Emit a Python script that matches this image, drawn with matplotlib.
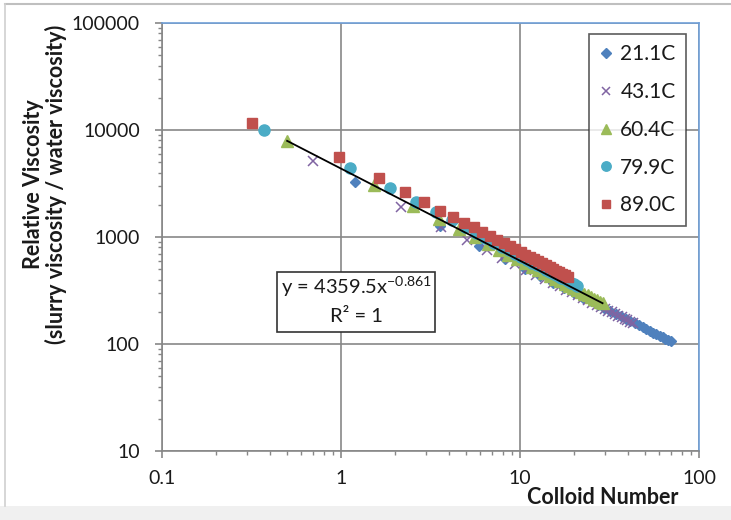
import matplotlib
matplotlib.use("Agg")
import matplotlib.pyplot as plt
import numpy as np
from matplotlib.ticker import LogLocator, FuncFormatter, NullFormatter
from matplotlib.patches import Rectangle
from matplotlib.lines import Line2D

plt.rcParams['font.family'] = ['Lato', 'DejaVu Sans']
plt.rcParams['mathtext.fontset'] = 'custom'
plt.rcParams['mathtext.rm'] = 'Lato'
plt.rcParams['mathtext.it'] = 'Lato:italic'
plt.rcParams['mathtext.bf'] = 'Lato:bold'

# ---- data: colloid number vs relative viscosity at five temperatures ----
labels = ["21.1C", "43.1C", "60.4C", "79.9C", "89.0C"]

x_211 = [1.20, 3.56, 5.92, 8.28, 10.64, 13.00, 15.36, 17.72, 20.08, 22.44,
         24.80, 27.16, 29.52, 31.88, 34.24, 36.60, 38.96, 41.32, 43.68, 46.04,
         48.40, 50.76, 53.12, 55.48, 57.84, 60.20, 62.56, 64.92, 67.28, 69.64]
y_211 = [3250, 1260, 825, 624, 506, 429, 373, 331, 298, 272,
         250, 232, 217, 203, 191, 181, 172, 164, 156, 150,
         144, 138, 133, 128, 124, 120, 116, 112, 109, 106]

x_431 = [0.70, 2.15, 3.60, 5.05, 6.50, 7.95, 9.40, 10.85, 12.30, 13.75,
         15.20, 16.65, 18.10, 19.55, 21.00, 22.45, 23.90, 25.35, 26.80, 28.25,
         29.70, 31.15, 32.60, 34.05, 35.50, 36.95, 38.40, 39.85, 41.30, 42.75]
y_431 = [5150, 1910, 1243, 937, 759, 641, 557, 495, 445, 406,
         373, 346, 323, 303, 285, 269, 256, 244, 232, 222,
         213, 205, 197, 190, 184, 178, 172, 167, 162, 157]

x_604 = [0.50, 1.52, 2.53, 3.55, 4.56, 5.58, 6.59, 7.61, 8.62, 9.64,
         10.65, 11.67, 12.68, 13.70, 14.71, 15.73, 16.74, 17.76, 18.77, 19.79,
         20.80, 21.82, 22.83, 23.85, 24.86, 25.88, 26.89, 27.91, 28.92]
y_604 = [7918, 3040, 1960, 1465, 1181, 992, 860, 760, 682, 620,
         569, 526, 490, 458, 431, 406, 385, 366, 349, 334,
         320, 307, 295, 284, 274, 265, 256, 248, 241]

x_799 = [0.37, 1.125, 1.88, 2.635, 3.39, 4.145, 4.90, 5.655, 6.41, 7.165,
         7.92, 8.675, 9.43, 10.185, 10.94, 11.695, 12.45, 13.205, 13.96, 14.715,
         15.47, 16.225, 16.98, 17.735, 18.49, 19.245, 20.00, 20.755]
y_799 = [10050, 4400, 2860, 2120, 1700, 1427, 1233, 1088, 975, 885,
         811, 749, 696, 651, 611, 577, 546, 519, 494, 472,
         452, 433, 417, 401, 387, 373, 361, 350]

x_890 = [0.32, 0.97, 1.62, 2.27, 2.92, 3.57, 4.22, 4.87, 5.52, 6.17,
         6.82, 7.47, 8.12, 8.77, 9.42, 10.07, 10.72, 11.37, 12.02, 12.67,
         13.32, 13.97, 14.62, 15.27, 15.92, 16.57, 17.22, 17.87, 18.52]
y_890 = [11700, 5600, 3570, 2640, 2130, 1750, 1540, 1350, 1230, 1118,
         1023, 944, 877, 820, 769, 725, 686, 652, 620, 592,
         567, 543, 522, 502, 484, 467, 452, 437, 424]

# power-law trendline fitted to the 60.4C series
trend_coef = 4359.5
trend_exp = -0.861
trend_r2 = 1

x_ticks = [0.1, 1, 10, 100]
y_ticks = [10, 100, 1000, 10000, 100000]

# ---- figure ----
W, H = 731, 520
fig = plt.figure(figsize=(W / 100, H / 100), dpi=100)

# chart area frame
fig.patches.append(Rectangle((0, 0), 1, 14 / H, transform=fig.transFigure,
                             facecolor='#f0f0f0', edgecolor='none', zorder=0))
fig.lines.append(Line2D([5 / W, 1], [1 - 4 / H, 1 - 4 / H], transform=fig.transFigure,
                        color='#bfbfbf', lw=1.5))
fig.lines.append(Line2D([5 / W, 5 / W], [14 / H, 1 - 4 / H], transform=fig.transFigure,
                        color='#d0d0d0', lw=1.2))

L, R, T, B = 162, 699, 23, 451
ax = fig.add_axes([L / W, (H - B) / H, (R - L) / W, (B - T) / H])
ax.set_xscale('log')
ax.set_yscale('log')
ax.set_xlim(0.1, 100)
ax.set_ylim(10, 100000)

grid_c = '#878787'
ax.grid(True, which='major', color=grid_c, lw=1.2)
ax.set_axisbelow(True)
for s in ['left', 'bottom']:
    ax.spines[s].set_color(grid_c)
    ax.spines[s].set_linewidth(1.2)
for s in ['top', 'right']:
    ax.spines[s].set_color('#6f9fd8')
    ax.spines[s].set_linewidth(1.2)

ax.xaxis.set_major_locator(LogLocator(base=10, numticks=10))
ax.yaxis.set_major_locator(LogLocator(base=10, numticks=10))
ax.xaxis.set_minor_locator(LogLocator(base=10, subs=np.arange(2, 10), numticks=20))
ax.yaxis.set_minor_locator(LogLocator(base=10, subs=np.arange(2, 10), numticks=20))
ax.set_xticks(x_ticks)
ax.set_yticks(y_ticks)
ax.xaxis.set_major_formatter(FuncFormatter(lambda v, p: '%g' % v))
ax.yaxis.set_major_formatter(FuncFormatter(lambda v, p: '%d' % v))
ax.xaxis.set_minor_formatter(NullFormatter())
ax.yaxis.set_minor_formatter(NullFormatter())
ax.tick_params(which='major', direction='out', length=5, width=1.2, color=grid_c,
               labelsize=14, labelcolor='#1a1a1a')
ax.tick_params(which='minor', direction='out', length=3, width=1.0, color=grid_c)
ax.tick_params(axis='y', which='major', pad=11)
ax.tick_params(axis='x', which='major', pad=9)

ax.plot(x_211, y_211, linestyle='none', marker='D', ms=5.5, color='#4f81bd',
        mec='#4f81bd', label=labels[0], zorder=3)
ax.plot(x_431, y_431, linestyle='none', marker='x', ms=7, mew=1.1, color='#8064a2',
        label=labels[1], zorder=4)
ax.plot(x_604, y_604, linestyle='none', marker='^', ms=8, color='#9bbb59',
        mec='#9bbb59', label=labels[2], zorder=5)
ax.plot(x_799, y_799, linestyle='none', marker='o', ms=8, color='#4bacc6',
        mec='#4bacc6', label=labels[3], zorder=6)
ax.plot(x_890, y_890, linestyle='none', marker='s', ms=7.5, color='#c0504d',
        mec='#c0504d', label=labels[4], zorder=7)

# trendline
xt = np.geomspace(min(x_604), max(x_604), 100)
ax.plot(xt, trend_coef * xt ** trend_exp, color='black', lw=1.3, zorder=8)

leg = ax.legend(loc='upper right', bbox_to_anchor=((686 - L) / (R - L), (B - 34) / (B - T)),
                borderaxespad=0, fontsize=15, frameon=True, fancybox=False,
                labelspacing=0.85, handlelength=0.6, handletextpad=0.4,
                borderpad=0.5, markerscale=0.85)
leg.get_frame().set_edgecolor('#333333')
leg.get_frame().set_linewidth(1.2)
for t in leg.get_texts():
    t.set_color('#1a1a1a')

# equation box
bx0, bx1, by0, by1 = 277, 435, 272, 332
fig.patches.append(Rectangle((bx0 / W, 1 - by1 / H), (bx1 - bx0) / W, (by1 - by0) / H,
                             transform=fig.transFigure, facecolor='white',
                             edgecolor='#333333', lw=1.2, zorder=10))
eq = 'y = %gx$^{\\mathrm{%g}}$' % (trend_coef, trend_exp)
fig.text((bx0 + bx1) / 2 / W, 1 - 287 / H, eq, ha='center', va='center',
         fontsize=14.5, color='#1a1a1a', zorder=11)
fig.text((bx0 + bx1) / 2 / W, 1 - 316 / H, 'R² = %g' % trend_r2, ha='center',
         va='center', fontsize=14.5, color='#1a1a1a', zorder=11)

# axis titles
fig.text(603 / W, 1 - 497 / H, 'Colloid Number', ha='center', va='center',
         fontsize=15.5, fontweight='bold', color='#1a1a1a')
fig.text(45 / W, 1 - 184 / H, 'Relative Viscosity\n(slurry viscosity / water viscosity)',
         ha='center', va='center', rotation=90, multialignment='center',
         fontsize=15.5, fontweight='bold', color='#1a1a1a', linespacing=1.1)

fig.savefig('out.png', dpi=100)
